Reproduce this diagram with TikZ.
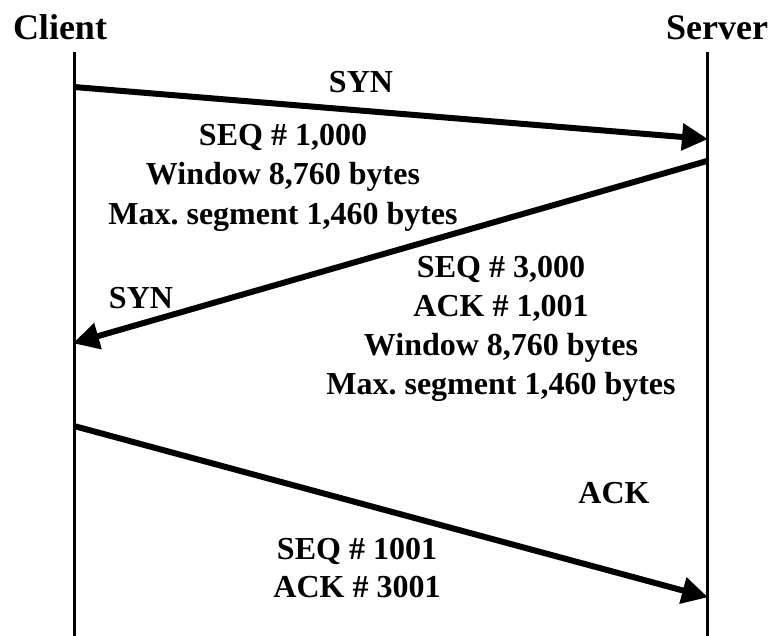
\documentclass[tikz,border=0pt]{standalone}
\usepackage{fontspec}
\setmainfont{Liberation Serif}
\usetikzlibrary{arrows.meta}
\frenchspacing
\begin{document}
\begin{tikzpicture}[x=1pt,y=-1pt,
  lifeline/.style={line width=3pt},
  msg/.style={line width=6pt,-{Triangle[length=26pt,width=26pt]}, shorten >=-1pt},
  head/.style={anchor=base,inner sep=0pt,font=\fontsize{36}{40}\selectfont\bfseries},
  lbl/.style={anchor=base,inner sep=0pt,font=\fontsize{32}{38}\selectfont\bfseries}]
  \useasboundingbox (0,0) rectangle (770,635);

  % participants
  \node[head] (client) at (60,39) {Client};
  \node[head] (server) at (717,39) {Server};

  % lifelines
  \coordinate (ctop) at (74,52);
  \coordinate (cbot) at (74,636);
  \coordinate (stop) at (707,52);
  \coordinate (sbot) at (707,636);
  \draw[lifeline] (ctop) -- (cbot);
  \draw[lifeline] (stop) -- (sbot);

  % message end points on the lifelines
  \coordinate (m1a) at (74,87);
  \coordinate (m1b) at (707,139);
  \coordinate (m2a) at (707,161);
  \coordinate (m2b) at (74,343);
  \coordinate (m3a) at (74,426);
  \coordinate (m3b) at (707,597);

  \draw[msg] (m1a) -- (m1b);
  \draw[msg] (m2a) -- (m2b);
  \draw[msg] (m3a) -- (m3b);

  % first segment
  \node[lbl] (syn1) at (361,92) {SYN};
  \node[lbl] (s1l1) at (283,145) {SEQ \# 1,000};
  \node[lbl] (s1l2) at (283,184.5) {Window 8,760 bytes};
  \node[lbl] (s1l3) at (283,224) {Max. segment 1,460 bytes};

  % second segment
  \node[lbl] (syn2) at (141,308) {SYN};
  \node[lbl] (s2l1) at (501,277) {SEQ \# 3,000};
  \node[lbl] (s2l2) at (501,316) {ACK \# 1,001};
  \node[lbl] (s2l3) at (501,355) {Window 8,760 bytes};
  \node[lbl] (s2l4) at (501,394) {Max. segment 1,460 bytes};

  % third segment
  \node[lbl] (ack3) at (614,503) {ACK};
  \node[lbl] (s3l1) at (357,559) {SEQ \# 1001};
  \node[lbl] (s3l2) at (357,597) {ACK \# 3001};
\end{tikzpicture}
\end{document}
